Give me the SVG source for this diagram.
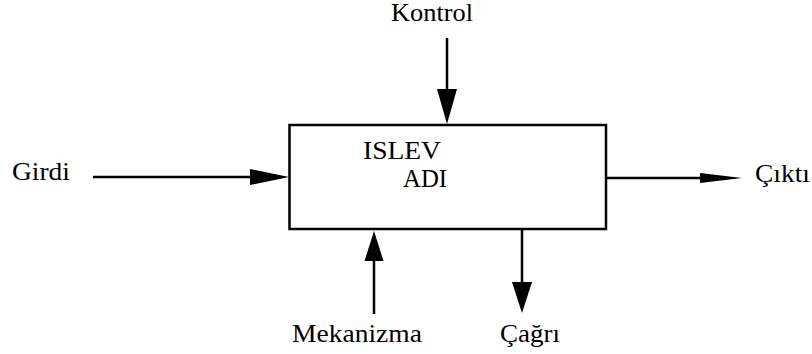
<svg xmlns="http://www.w3.org/2000/svg" width="812" height="354" viewBox="0 0 812 354" font-family="'Liberation Serif', 'DejaVu Serif', serif">
<style>
  .t { font-family: 'Liberation Serif', 'DejaVu Serif', serif; font-size: 25px; fill: #000; }
  .ln { stroke: #000; stroke-width: 2.5; fill: none; }
  .hd { fill: #000; stroke: none; }
  .box { fill: #fff; stroke: #000; stroke-width: 2.5; }
</style>
<rect width="812" height="354" fill="#fff"/>
<g id="node-islev">
  <rect class="box" x="289.5" y="125" width="316.5" height="104"/>
  <text class="t" font-family="Liberation Serif" x="363" y="159" textLength="78" lengthAdjust="spacingAndGlyphs">ISLEV</text>
  <text class="t" font-family="Liberation Serif" x="403" y="187" textLength="44" lengthAdjust="spacingAndGlyphs">ADI</text>
</g>
<g id="node-kontrol"><text class="t" font-family="Liberation Serif" x="391" y="21" textLength="82" lengthAdjust="spacingAndGlyphs">Kontrol</text></g>
<g id="node-girdi"><text class="t" font-family="Liberation Serif" x="12" y="180" textLength="58" lengthAdjust="spacingAndGlyphs">Girdi</text></g>
<g id="node-cikti"><text class="t" font-family="Liberation Serif" x="755" y="182" textLength="55" lengthAdjust="spacingAndGlyphs">Çıktı</text></g>
<g id="node-mekanizma"><text class="t" font-family="Liberation Serif" x="292" y="342" textLength="130" lengthAdjust="spacingAndGlyphs">Mekanizma</text></g>
<g id="node-cagri"><text class="t" font-family="Liberation Serif" x="500" y="342" textLength="60" lengthAdjust="spacingAndGlyphs">Çağrı</text></g>
<g id="connectors">
  <line class="ln" x1="93" y1="177" x2="252" y2="177"/>
  <polygon class="hd" points="250,169 250,185 289,177"/>
  <line class="ln" x1="606" y1="178" x2="702" y2="178"/>
  <polygon class="hd" points="700,173 700,183 742,178"/>
  <line class="ln" x1="447" y1="38" x2="447" y2="91"/>
  <polygon class="hd" points="437,89 457,89 447,124"/>
  <line class="ln" x1="374" y1="314" x2="374" y2="259"/>
  <polygon class="hd" points="364.5,261 383.5,261 374,231"/>
  <line class="ln" x1="522" y1="229" x2="522" y2="284"/>
  <polygon class="hd" points="512,282 532,282 522,313"/>
</g>
</svg>
